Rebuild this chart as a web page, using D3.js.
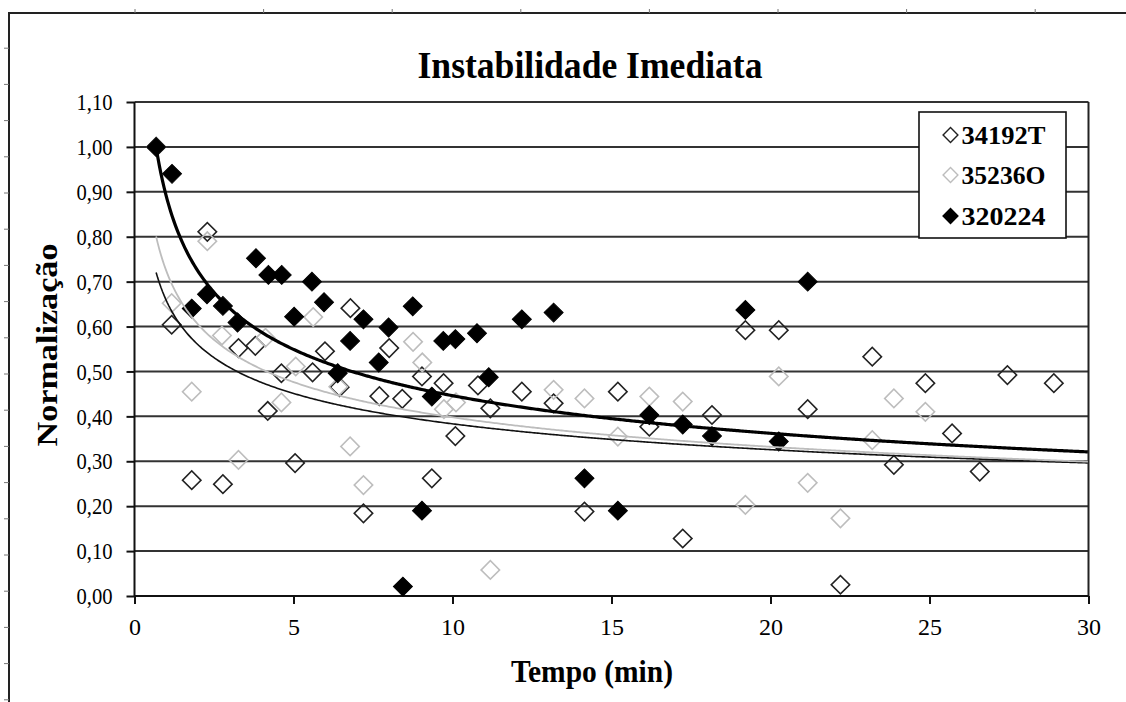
<!DOCTYPE html>
<html>
<head>
<meta charset="utf-8">
<script src="https://cdn.jsdelivr.net/npm/d3@7/dist/d3.min.js"></script>
<style>
  html, body { margin: 0; padding: 0; background: #fff; }
  svg { display: block; }
  svg text { font-family: "Liberation Serif", "Times New Roman", serif !important; fill: #000; }
</style>
</head>
<body>
<svg id="chart" width="1126" height="702"></svg>
<script>
// ---- data: time (min) and normalised value for each sample ----
const seriesNames = ["34192T", "35236O", "320224"];

const t34192T = [0.68, 1.17, 1.80, 2.29, 2.78, 3.27, 3.80, 4.19, 4.62, 5.05, 5.60, 5.99, 6.45, 6.79, 7.20, 7.70, 8.01, 8.42, 9.04, 9.35, 9.72, 10.09, 10.80, 11.19, 12.18, 13.18, 14.15, 15.20, 16.19, 17.24, 18.16, 19.21, 20.26, 21.17, 22.20, 23.20, 23.88, 24.87, 25.71, 26.58, 27.45, 28.91];
const v34192T = [1.00, 0.604, 0.258, 0.811, 0.249, 0.552, 0.557, 0.412, 0.496, 0.296, 0.498, 0.545, 0.465, 0.641, 0.184, 0.445, 0.552, 0.439, 0.489, 0.262, 0.474, 0.356, 0.469, 0.418, 0.455, 0.429, 0.188, 0.455, 0.377, 0.128, 0.403, 0.592, 0.592, 0.416, 0.025, 0.533, 0.292, 0.474, 0.362, 0.277, 0.492, 0.474];

const t35236O = [0.68, 1.17, 1.80, 2.29, 2.75, 3.27, 4.12, 4.62, 5.07, 5.62, 6.41, 6.78, 7.20, 8.76, 9.05, 9.73, 10.11, 11.19, 13.18, 14.15, 15.20, 16.19, 17.24, 19.21, 20.26, 21.17, 22.20, 23.20, 23.88, 24.87];
const v35236O = [1.00, 0.652, 0.455, 0.790, 0.580, 0.303, 0.575, 0.431, 0.511, 0.621, 0.466, 0.333, 0.247, 0.566, 0.520, 0.416, 0.431, 0.058, 0.459, 0.440, 0.355, 0.444, 0.433, 0.203, 0.489, 0.252, 0.173, 0.347, 0.440, 0.410];

const t320224 = [0.68, 1.18, 1.80, 2.28, 2.78, 3.24, 3.82, 4.21, 4.63, 5.02, 5.58, 5.96, 6.39, 6.78, 7.20, 7.68, 7.99, 8.44, 8.75, 9.04, 9.35, 9.71, 10.09, 10.77, 11.14, 12.18, 13.18, 14.15, 15.20, 16.19, 17.24, 18.16, 19.21, 20.26, 21.17];
const v320224 = [1.00, 0.94, 0.64, 0.672, 0.646, 0.609, 0.752, 0.715, 0.715, 0.622, 0.700, 0.654, 0.496, 0.568, 0.616, 0.520, 0.598, 0.021, 0.645, 0.190, 0.444, 0.568, 0.572, 0.585, 0.487, 0.616, 0.631, 0.262, 0.190, 0.403, 0.382, 0.356, 0.637, 0.344, 0.700];

// power trendlines y = a * x^b, one per series
const trendA = [0.658, 0.724, 0.890];
const trendB = [-0.2346, -0.260, -0.300];

// axis ticks
const xTicks = [0, 5, 10, 15, 20, 25, 30];
const yTicks = [0, 0.1, 0.2, 0.3, 0.4, 0.5, 0.6, 0.7, 0.8, 0.9, 1.0, 1.1];

// ---- drawing ----
const SERIF = "'Liberation Serif', 'Times New Roman', serif";
const svg = d3.select("#chart");
svg.append("rect").attr("width", 1126).attr("height", 702).attr("fill", "#fff");

// sheet frame with ruler notches
const frame = svg.append("g");
frame.append("line").attr("x1", 8).attr("x2", 1126).attr("y1", 13).attr("y2", 13)
  .attr("stroke", "#222").attr("stroke-width", 2);
frame.append("line").attr("x1", 9).attr("x2", 9).attr("y1", 12).attr("y2", 702)
  .attr("stroke", "#222").attr("stroke-width", 2);
d3.range(1, 9).forEach(k => {
  const xx = 6.4 + 128.6 * k;
  frame.append("line").attr("x1", xx).attr("x2", xx).attr("y1", 9).attr("y2", 13)
    .attr("stroke", "#777").attr("stroke-width", 1);
});
d3.range(1, 20).forEach(k => {
  const yy = 12 + 36.2 * k;
  frame.append("line").attr("x1", 4).attr("x2", 9).attr("y1", yy).attr("y2", yy)
    .attr("stroke", "#777").attr("stroke-width", 1);
});

const x = d3.scaleLinear().domain([0, 30]).range([134.5, 1088.5]);
const y = d3.scaleLinear().domain([0, 1.1]).range([596, 102]);

// horizontal gridlines
svg.append("g").selectAll("line").data(yTicks.slice(1)).join("line")
  .attr("x1", x(0)).attr("x2", x(30))
  .attr("y1", d => y(d)).attr("y2", d => y(d))
  .attr("stroke", "#333").attr("stroke-width", 2);

// right border of the plot
svg.append("line").attr("x1", x(30)).attr("x2", x(30)).attr("y1", y(1.1)).attr("y2", y(0))
  .attr("stroke", "#222").attr("stroke-width", 2);

// axes
const fmt = d => d3.format(".2f")(d).replace(".", ",");
const yAxis = svg.append("g").attr("transform", `translate(${x(0)},0)`)
  .call(d3.axisLeft(y).tickValues(yTicks).tickFormat(fmt).tickSize(8).tickPadding(14));
const xAxis = svg.append("g").attr("transform", `translate(0,${y(0)})`)
  .call(d3.axisBottom(x).tickValues(xTicks).tickFormat(d3.format("d")).tickSize(8).tickPadding(14));
[yAxis, xAxis].forEach(g => {
  g.attr("font-family", null).style("font-family", SERIF);
  g.select(".domain").attr("stroke", "#111").attr("stroke-width", 2);
  g.selectAll(".tick line").attr("stroke", "#111").attr("stroke-width", 2);
  g.selectAll(".tick text").style("font-family", SERIF)
    .attr("font-size", 24).attr("fill", "#111");
});
yAxis.selectAll(".tick text").attr("textLength", 36).attr("lengthAdjust", "spacingAndGlyphs");
yAxis.select(".domain").attr("d", `M0,${y(1.1)}V${y(0)}`);
xAxis.select(".domain").attr("d", `M${x(0)},0H${x(30)}`);

// markers: square rotated 45 degrees
const diamond = d3.symbol(d3.symbolSquare, 180)();
const diamondOpen = d3.symbol(d3.symbolSquare, 170)();

const styles = [
  { fill: "none", stroke: "#222", sw: 1.6, path: diamondOpen },
  { fill: "none", stroke: "#bdbdbd", sw: 1.6, path: diamondOpen },
  { fill: "#000", stroke: "#000", sw: 1, path: diamond }
];
const tData = [t34192T, t35236O, t320224];
const vData = [v34192T, v35236O, v320224];

tData.forEach((ts, i) => {
  const pts = ts.map((t, j) => [t, vData[i][j]]);
  svg.append("g").selectAll("path").data(pts).join("path")
    .attr("d", styles[i].path)
    .attr("transform", d => `translate(${x(d[0])},${y(d[1])}) rotate(45)`)
    .attr("fill", styles[i].fill)
    .attr("stroke", styles[i].stroke)
    .attr("stroke-width", styles[i].sw);
});

// trendlines from the first sample time to the end of the axis
const trendStyle = [
  { stroke: "#111", sw: 1.6 },
  { stroke: "#bdbdbd", sw: 1.8 },
  { stroke: "#000", sw: 3.2 }
];
const line = d3.line().x(d => x(d[0])).y(d => y(d[1]));
trendA.forEach((a, i) => {
  const xs = d3.range(0.68, 30.0001, 0.05);
  const pts = xs.map(t => [t, a * Math.pow(t, trendB[i])]);
  svg.append("path").datum(pts).attr("d", line)
    .attr("fill", "none").attr("stroke", trendStyle[i].stroke)
    .attr("stroke-width", trendStyle[i].sw);
});

// title
svg.append("text").attr("x", 590).attr("y", 78).attr("text-anchor", "middle")
  .style("font-family", SERIF)
  .attr("font-size", 38).attr("font-weight", "bold")
  .attr("textLength", 345).attr("lengthAdjust", "spacingAndGlyphs")
  .text("Instabilidade Imediata");

// axis titles
svg.append("text").attr("x", 592).attr("y", 682).attr("text-anchor", "middle")
  .style("font-family", SERIF)
  .attr("font-size", 32).attr("font-weight", "bold")
  .attr("textLength", 162).attr("lengthAdjust", "spacingAndGlyphs")
  .text("Tempo (min)");
svg.append("text").attr("transform", "translate(57,345) rotate(-90)")
  .attr("text-anchor", "middle")
  .style("font-family", SERIF)
  .attr("font-size", 30).attr("font-weight", "bold")
  .attr("textLength", 203).attr("lengthAdjust", "spacingAndGlyphs")
  .text("Normalização");

// legend
const legend = svg.append("g");
legend.append("rect").attr("x", 919).attr("y", 112).attr("width", 147).attr("height", 126)
  .attr("fill", "#fff").attr("stroke", "#111").attr("stroke-width", 1.6);
const legendRows = [135, 175, 216];
seriesNames.forEach((name, i) => {
  const g = legend.append("g").attr("transform", `translate(950.5,${legendRows[i]})`);
  g.append("path").attr("d", d3.symbol(d3.symbolSquare, 110)()).attr("transform", "rotate(45)")
    .attr("fill", styles[i].fill).attr("stroke", styles[i].stroke).attr("stroke-width", 1.4);
  g.append("text").attr("x", 11).attr("y", 9)
    .style("font-family", SERIF)
    .attr("font-size", 26).attr("font-weight", "bold")
    .attr("textLength", 84).attr("lengthAdjust", "spacingAndGlyphs")
    .text(name);
});
</script>
</body>
</html>
